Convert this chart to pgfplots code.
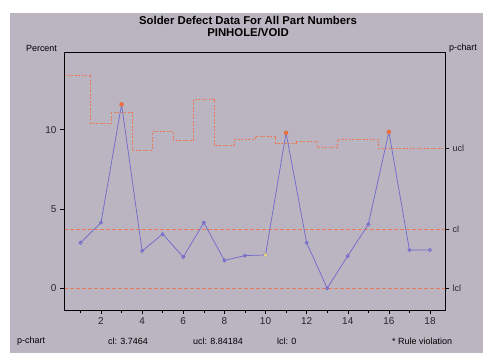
\documentclass[border=0pt]{standalone}
\usepackage{fontspec}
\setmainfont{Liberation Sans}
\usepackage{pgfplots}
\pgfplotsset{compat=1.18}
\definecolor{panel}{RGB}{186,181,193}
\definecolor{dline}{RGB}{112,104,204}
\definecolor{cline}{RGB}{232,122,88}
\definecolor{viol}{RGB}{236,110,60}
\definecolor{yel}{RGB}{230,215,120}
\begin{document}
\begin{tikzpicture}[x=1bp,y=1bp]
\fill[white] (0,0) rectangle (500,359);
\fill[panel] (10,6) rectangle (483,346);
\node[font=\bfseries\fontsize{11.4}{13}\selectfont] at (248,339) {Solder Defect Data For All Part Numbers};
\node[font=\bfseries\fontsize{11.4}{13}\selectfont] at (248,327) {PINHOLE/VOID};
\node[font=\fontsize{9}{10}\selectfont] at (41.5,311) {Percent};
\node[font=\fontsize{9}{10}\selectfont] at (463,311) {p-chart};
\begin{scope}[every node/.style={font=\fontsize{9}{10}\selectfont,anchor=west,inner sep=0pt}]
\node at (17,18) {p-chart};
\node at (108,18) {cl: 3.7464};
\node at (193,18) {ucl: 8.84184};
\node at (277,18) {lcl: 0};
\node at (392,18) {* Rule violation};
\end{scope}
\begin{axis}[
  at={(64bp,49bp)}, anchor=south west,
  scale only axis, width=381bp, height=258bp,
  xmin=0.2, xmax=18.73, ymin=-1.37, ymax=14.9,
  axis line style={black, line width=0.6pt},
  xtick={2,4,...,18}, minor xtick={1,3,...,17},
  ytick={0,5,10},
  tick align=outside, major tick length=4bp, minor tick length=3bp,
  tick style={black, line width=0.5pt},
  xtick pos=bottom, ytick pos=left,
  tick label style={font=\fontsize{10}{11}\selectfont, text=black!85},
  /pgf/number format/assume math mode=true,
  clip=false,
]
\addplot[cline, dash pattern=on 2bp off 1.5bp, line width=0.6pt, const plot] coordinates {
(0.2,13.45) (1.5,10.4) (2.5,11.07) (3.5,8.72) (4.5,9.87) (5.5,9.35) (6.5,11.9)
(7.5,9.03) (8.5,9.4) (9.5,9.56) (10.5,9.14) (11.5,9.29) (12.5,8.89) (13.5,9.39)
(14.5,9.39) (15.5,8.83) (18.73,8.83)};
\addplot[cline, dash pattern=on 4bp off 2bp, line width=0.6pt] coordinates {(0.2,3.7464) (18.73,3.7464)};
\addplot[cline, dash pattern=on 4bp off 2bp, line width=0.6pt] coordinates {(0.2,0) (18.73,0)};
\addplot[dline, line width=0.7pt, mark=o, mark size=1.6pt, mark options={solid}] coordinates {
(1,2.87) (2,4.14) (3,11.6) (4,2.35) (5,3.42) (6,1.97) (7,4.14) (8,1.76) (9,2.06)
(10,2.1) (11,9.8) (12,2.87) (13,0) (14,2.04) (15,4.03) (16,9.86) (17,2.41) (18,2.41)};
\addplot[only marks, mark=*, mark size=2pt, viol] coordinates {(3,11.6) (11,9.8) (16,9.86)};
\addplot[only marks, mark=*, mark size=1.6pt, yel] coordinates {(10,2.1)};
\end{axis}
\begin{axis}[
  at={(64bp,49bp)}, anchor=south west,
  scale only axis, width=381bp, height=258bp,
  xmin=0.2, xmax=18.73, ymin=-1.37, ymax=14.9,
  axis x line=none, axis y line*=right,
  axis line style={black, line width=0.6pt},
  ytick={0,3.7464,8.84184}, yticklabels={lcl,cl,ucl},
  tick align=outside, major tick length=4bp,
  tick style={black, line width=0.5pt},
  tick label style={font=\fontsize{9}{10}\selectfont, text=black!85},
]
\end{axis}
\draw[black, line width=0.6pt] (64,49) rectangle (445,307);
\end{tikzpicture}
\end{document}
